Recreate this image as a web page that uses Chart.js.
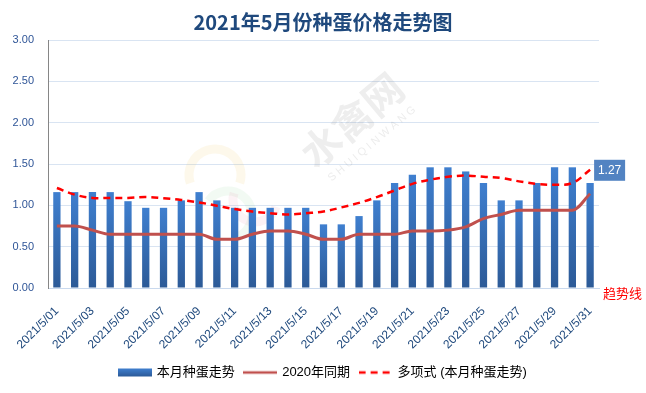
<!DOCTYPE html>
<html>
<head>
<meta charset="utf-8">
<script src="https://cdn.jsdelivr.net/npm/chart.js@4.4.0/dist/chart.umd.min.js"></script>
<style>
  html, body { margin: 0; padding: 0; background: #fff; }
  #wrap { width: 646px; height: 393px; }
</style>
</head>
<body>
<div id="wrap"><canvas id="eggChart"></canvas></div>
<script>
const days = ['2021/5/01', '2021/5/02', '2021/5/03', '2021/5/04', '2021/5/05', '2021/5/06', '2021/5/07', '2021/5/08',
  '2021/5/09', '2021/5/10', '2021/5/11', '2021/5/12', '2021/5/13', '2021/5/14', '2021/5/15', '2021/5/16',
  '2021/5/17', '2021/5/18', '2021/5/19', '2021/5/20', '2021/5/21', '2021/5/22', '2021/5/23', '2021/5/24',
  '2021/5/25', '2021/5/26', '2021/5/27', '2021/5/28', '2021/5/29', '2021/5/30', '2021/5/31'];

// 本月种蛋走势
const priceThisMonth = [1.16, 1.16, 1.16, 1.16, 1.05, 0.97, 0.97, 1.06, 1.16, 1.06, 0.97, 0.97, 0.97, 0.97, 0.97, 0.77,
  0.77, 0.87, 1.06, 1.27, 1.37, 1.46, 1.46, 1.41, 1.27, 1.06, 1.06, 1.27, 1.46, 1.46, 1.27];

// 2020年同期
const priceLastYear = [0.75, 0.75, 0.70, 0.65, 0.65, 0.65, 0.65, 0.65, 0.65, 0.59, 0.59, 0.65, 0.69, 0.69, 0.65, 0.59,
  0.59, 0.65, 0.65, 0.65, 0.69, 0.69, 0.70, 0.74, 0.84, 0.89, 0.94, 0.94, 0.94, 0.94, 1.14];

// 多项式 (本月种蛋走势)
const trendValues = [1.21, 1.13, 1.09, 1.09, 1.09, 1.10, 1.085, 1.065, 1.035, 0.995, 0.955, 0.925, 0.905, 0.89, 0.905, 0.925,
  0.975, 1.03, 1.10, 1.18, 1.26, 1.31, 1.345, 1.36, 1.345, 1.33, 1.29, 1.26, 1.25, 1.27, 1.43];

const yTicks = ['0.00', '0.50', '1.00', '1.50', '2.00', '2.50', '3.00'];

const seriesNames = ['本月种蛋走势', '2020年同期', '多项式 (本月种蛋走势)'];

const FONT = "'Liberation Sans', 'Noto Sans CJK SC', sans-serif";

// small canvases used as legend symbols
function legendIcon(kind) {
    const c = document.createElement('canvas');
    c.width = 34;
    c.height = 10;
    const g = c.getContext('2d');
    if (kind === 'bar') {
        const grad = g.createLinearGradient(0, 1, 0, 9);
        grad.addColorStop(0, '#3f7fcf');
        grad.addColorStop(1, '#2c5a97');
        g.fillStyle = grad;
        g.fillRect(0, 1, 34, 8);
    } else {
        g.strokeStyle = kind === 'line' ? '#c0504d' : '#ff0000';
        g.lineWidth = 2.5;
        if (kind === 'dash') g.setLineDash([7, 5]);
        g.beginPath();
        g.moveTo(0, 5);
        g.lineTo(34, 5);
        g.stroke();
    }
    return c;
}
const icons = [legendIcon('bar'), legendIcon('line'), legendIcon('dash')];

// watermark 水禽网
const watermark = {
    id: 'watermark',
    beforeDatasetsDraw(chart) {
        const ctx = chart.ctx;
        ctx.save();
        ctx.translate(352, 120);
        ctx.rotate(-40 * Math.PI / 180);
        ctx.fillStyle = 'rgba(120, 120, 120, 0.13)';
        ctx.font = "bold 40px 'Noto Sans CJK SC'";
        ctx.textAlign = 'center';
        ctx.textBaseline = 'middle';
        ctx.fillText('水禽网', 0, 0);
        ctx.restore();

        ctx.save();
        ctx.translate(372, 144);
        ctx.rotate(-40 * Math.PI / 180);
        ctx.fillStyle = 'rgba(120, 120, 120, 0.14)';
        ctx.font = "11px 'Liberation Sans'";
        ctx.textAlign = 'center';
        ctx.textBaseline = 'middle';
        ctx.fillText('S H U I Q I N W A N G', 0, 0);
        ctx.restore();

        // faint colour swirl of the logo
        ctx.save();
        ctx.lineWidth = 9;
        ctx.strokeStyle = 'rgba(240, 200, 90, 0.12)';
        ctx.beginPath();
        ctx.arc(215, 175, 26, Math.PI * 0.9, Math.PI * 2.1);
        ctx.stroke();
        ctx.strokeStyle = 'rgba(150, 210, 160, 0.12)';
        ctx.beginPath();
        ctx.arc(228, 215, 24, Math.PI * 1.2, Math.PI * 2.4);
        ctx.stroke();
        ctx.strokeStyle = 'rgba(230, 150, 170, 0.12)';
        ctx.beginPath();
        ctx.arc(255, 200, 22, Math.PI * 0.1, Math.PI * 1.1);
        ctx.stroke();
        ctx.restore();
    }
};

// value box on the last bar and the 趋势线 note
const notes = {
    id: 'notes',
    afterDatasetsDraw(chart) {
        const ctx = chart.ctx;
        const last = priceThisMonth.length - 1;
        const x = chart.scales.x.getPixelForValue(last) + 4;
        const y = chart.scales.y.getPixelForValue(trendValues[last]);
        ctx.save();
        ctx.fillStyle = '#5283c2';
        ctx.fillRect(x, y - 10, 31, 21);
        ctx.fillStyle = '#ffffff';
        ctx.font = '12px ' + FONT;
        ctx.textAlign = 'center';
        ctx.textBaseline = 'middle';
        ctx.fillText(priceThisMonth[last].toFixed(2), x + 15.5, y + 0.5);

        ctx.fillStyle = '#ff0000';
        ctx.font = "13px 'Noto Sans CJK SC'";
        ctx.textAlign = 'left';
        ctx.fillText('趋势线', chart.chartArea.right + 4, chart.chartArea.bottom + 5);
        ctx.restore();
    }
};

document.addEventListener('DOMContentLoaded', () => {
    const ctx = document.getElementById('eggChart').getContext('2d');
    new Chart(ctx, {
        type: 'bar',
        data: {
            labels: days,
            datasets: [
                {
                    label: seriesNames[0],
                    data: priceThisMonth,
                    order: 3,
                    barPercentage: 0.41,
                    categoryPercentage: 1,
                    backgroundColor: (c) => {
                        const chart = c.chart;
                        if (!chart.chartArea || c.parsed === undefined) return '#3a72bb';
                        const top = chart.scales.y.getPixelForValue(c.parsed.y);
                        const bottom = chart.scales.y.getPixelForValue(0);
                        const grad = chart.ctx.createLinearGradient(0, top, 0, bottom);
                        grad.addColorStop(0, '#3f7fcf');
                        grad.addColorStop(1, '#2c5a97');
                        return grad;
                    },
                },
                {
                    type: 'line',
                    label: seriesNames[1],
                    data: priceLastYear,
                    order: 2,
                    borderColor: '#c0504d',
                    borderWidth: 3,
                    pointRadius: 0,
                    cubicInterpolationMode: 'monotone',
                    fill: false,
                },
                {
                    type: 'line',
                    label: seriesNames[2],
                    data: trendValues,
                    order: 1,
                    borderColor: '#ff0000',
                    borderWidth: 2.5,
                    borderDash: [7, 5],
                    pointRadius: 0,
                    tension: 0.4,
                    fill: false,
                },
            ],
        },
        options: {
            responsive: true,
            maintainAspectRatio: false,
            animation: false,
            layout: {
                padding: { left: 12, right: 12, top: 0, bottom: 4 },
            },
            plugins: {
                title: {
                    display: true,
                    text: '2021年5月份种蛋价格走势图',
                    color: '#1f497d',
                    font: { family: "'Noto Sans CJK SC'", size: 20, weight: 'bold' },
                    padding: { top: 10, bottom: 6 },
                },
                legend: {
                    position: 'bottom',
                    labels: {
                        usePointStyle: true,
                        pointStyleWidth: 31,
                        padding: 10,
                        color: '#000',
                        font: { family: FONT, size: 13 },
                        generateLabels: (chart) => chart.data.datasets.map((ds, i) => ({
                            text: ds.label,
                            pointStyle: icons[i],
                            datasetIndex: i,
                            fontColor: '#000',
                            fillStyle: 'transparent',
                            strokeStyle: 'transparent',
                            lineWidth: 0,
                            hidden: false,
                        })),
                    },
                },
                tooltip: { enabled: false },
            },
            scales: {
                x: {
                    grid: { display: false, drawTicks: false },
                    border: { color: '#c9d9ee', width: 1 },
                    ticks: {
                        autoSkip: false,
                        maxRotation: 45,
                        minRotation: 45,
                        padding: 16,
                        color: '#1f497d',
                        font: { family: FONT, size: 12 },
                        callback: (v, i) => (i % 2 === 0 ? days[i] : ''),
                    },
                    afterFit: (scale) => {
                        scale.height = 68;
                        scale.paddingLeft = 0;
                        scale.paddingRight = 0;
                    },
                },
                y: {
                    min: 0,
                    max: 3,
                    grid: { color: '#d9e4f2', drawTicks: false },
                    border: { color: '#868686', width: 1 },
                    ticks: {
                        stepSize: 0.5,
                        padding: 14,
                        color: '#2f5597',
                        font: { family: FONT, size: 11 },
                        callback: (v, i) => yTicks[i],
                    },
                    afterFit: (scale) => { scale.width = 36; },
                },
                // empty room on the right for the value box and note
                yRight: {
                    position: 'right',
                    display: true,
                    grid: { display: false, drawTicks: false },
                    border: { display: false },
                    ticks: { display: false },
                    afterFit: (scale) => { scale.width = 35; },
                },
            },
        },
        plugins: [watermark, notes],
    });
});
</script>
</body>
</html>
